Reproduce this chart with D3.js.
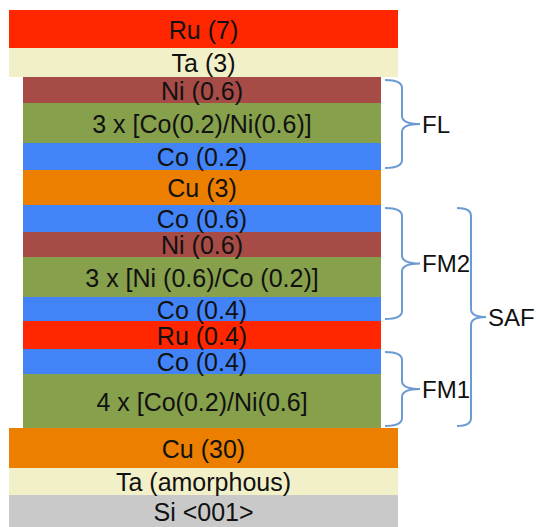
<!DOCTYPE html>
<html>
<head>
<meta charset="utf-8">
<script src="https://cdn.jsdelivr.net/npm/d3@7"></script>
<style>
  body { margin: 0; background: #fff; }
  svg text { font-family: "Liberation Sans", Arial, Helvetica, sans-serif; }
</style>
</head>
<body>
<svg id="stack" width="536" height="527"></svg>
<script>
// layer stack, top to bottom
const layerLabels = [
  "Ru (7)", "Ta (3)", "Ni (0.6)", "3 x [Co(0.2)/Ni(0.6)]", "Co (0.2)", "Cu (3)",
  "Co (0.6)", "Ni (0.6)", "3 x [Ni (0.6)/Co (0.2)]", "Co (0.4)", "Ru (0.4)",
  "Co (0.4)", "4 x [Co(0.2)/Ni(0.6]", "Cu (30)", "Ta (amorphous)", "Si <001>"
];
const layerMaterial = [
  "Ru", "Ta", "Ni", "CoNi", "Co", "Cu",
  "Co", "Ni", "CoNi", "Co", "Ru",
  "Co", "CoNi", "Cu", "Ta", "Si"
];
// drawn thickness of each layer (display units, not nm)
const layerHeights = [38, 29, 26, 40, 27, 35, 27, 25, 40, 24, 28, 25, 54, 40, 27, 32];
// wide layers = buffer/cap, narrow = patterned stack
const layerWide = [1, 1, 0, 0, 0, 0, 0, 0, 0, 0, 0, 0, 0, 1, 1, 1];

// groups marked by braces: [label, first layer, last layer, column]
const groupLabels = ["FL", "FM2", "FM1", "SAF"];
const groupFirst = [2, 6, 11, 6];
const groupLast = [4, 9, 12, 12];
const groupColumn = [0, 0, 0, 1];

const materialColor = {
  Ru: "#ff2600", Ta: "#f2f0c8", Ni: "#a64b45", CoNi: "#86a04c",
  Co: "#4284f8", Cu: "#ec7f00", Si: "#c9c9c9"
};

const svg = d3.select("#stack");

const tops = [0];
layerHeights.forEach((h, i) => tops.push(tops[i] + h));
const total = tops[tops.length - 1];

const y = d3.scaleLinear().domain([0, total]).range([10, 527]);

const layers = layerLabels.map((label, i) => ({
  label: label,
  mat: layerMaterial[i],
  y0: tops[i],
  y1: tops[i + 1],
  wide: layerWide[i] === 1
}));

const g = svg.append("g");

g.selectAll("rect.layer")
  .data(layers)
  .enter()
  .append("rect")
  .attr("class", "layer")
  .attr("x", d => d.wide ? 9 : 23)
  .attr("width", d => d.wide ? 389 : 358)
  .attr("y", d => y(d.y0))
  .attr("height", d => y(d.y1) - y(d.y0))
  .attr("fill", d => materialColor[d.mat]);

g.selectAll("text.layer")
  .data(layers)
  .enter()
  .append("text")
  .attr("class", "layer")
  .attr("x", d => d.wide ? 203.5 : 202)
  .attr("y", d => (y(d.y0) + y(d.y1)) / 2 + 9.5)
  .attr("text-anchor", "middle")
  .attr("font-size", 25)
  .attr("fill", "#111")
  .text(d => d.label);

// curly braces
const columns = [{ left: 385, spine: 402, tip: 420 }, { left: 457, spine: 471, tip: 486 }];

function bracePath(top, bot, c) {
  const mid = (top + bot) / 2;
  const r = 8;
  return `M${c.left},${top}` +
    ` Q${c.spine},${top} ${c.spine},${top + r}` +
    ` L${c.spine},${mid - r}` +
    ` Q${c.spine},${mid} ${c.tip},${mid}` +
    ` Q${c.spine},${mid} ${c.spine},${mid + r}` +
    ` L${c.spine},${bot - r}` +
    ` Q${c.spine},${bot} ${c.left},${bot}`;
}

const groups = groupLabels.map((label, i) => ({
  label: label,
  top: y(tops[groupFirst[i]]) + 3,
  bot: y(tops[groupLast[i] + 1]) - 2,
  col: columns[groupColumn[i]]
}));

g.selectAll("path.brace")
  .data(groups)
  .enter()
  .append("path")
  .attr("class", "brace")
  .attr("d", d => bracePath(d.top, d.bot, d.col))
  .attr("fill", "none")
  .attr("stroke", "#6b9bd2")
  .attr("stroke-width", 2);

g.selectAll("text.group")
  .data(groups)
  .enter()
  .append("text")
  .attr("class", "group")
  .attr("x", d => d.col.tip + 2)
  .attr("y", d => (d.top + d.bot) / 2 + 8.5)
  .attr("font-size", 24)
  .attr("fill", "#111")
  .text(d => d.label);
</script>
</body>
</html>
